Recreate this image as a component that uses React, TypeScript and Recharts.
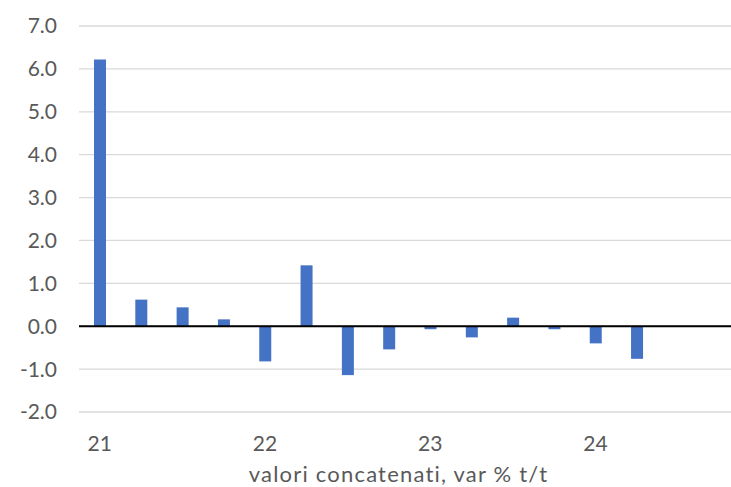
import { Bar, BarChart, CartesianGrid, Label, ReferenceLine, XAxis, YAxis } from "recharts";

// quarters 2021Q1 .. 2024Q4 (last two still empty)
const quarters = [
  "21Q1", "21Q2", "21Q3", "21Q4",
  "22Q1", "22Q2", "22Q3", "22Q4",
  "23Q1", "23Q2", "23Q3", "23Q4",
  "24Q1", "24Q2", "24Q3", "24Q4",
];
const growth: (number | null)[] = [
  6.22, 0.62, 0.44, 0.16,
  -0.82, 1.42, -1.14, -0.54,
  -0.07, -0.26, 0.2, -0.07,
  -0.4, -0.76, null, null,
];
const yTicks = [-2, -1, 0, 1, 2, 3, 4, 5, 6, 7];
const yearTicks = ["21Q1", "22Q1", "23Q1", "24Q1"];
const axisTitle = "valori concatenati, var % t/t";

const data = quarters.map((q, i) => ({ q, value: growth[i] }));

const font = "Lato, 'Open Sans', sans-serif";
const tickStyle = { fontSize: 21, fill: "#595959", fontFamily: font };

export default function App() {
  return (
    <div style={{ position: "fixed", left: 0, top: 0, width: 731, height: 487, overflow: "hidden", background: "#fff" }}>
      <BarChart width={745} height={487} data={data} margin={{ top: 26, right: 5, bottom: 0, left: 0 }} barSize={12}>
        <CartesianGrid vertical={false} stroke="#d9d9d9" strokeWidth={1.3} />
        <XAxis
          dataKey="q"
          ticks={yearTicks}
          interval={0}
          tickFormatter={(v: string) => v.slice(0, 2)}
          axisLine={false}
          tickLine={false}
          tickSize={0}
          tickMargin={24}
          height={75}
          tick={tickStyle}
        >
          <Label
            value={axisTitle}
            position="insideBottom"
            offset={5}
            dx={-11}
            style={{ fontSize: 22, fill: "#595959", fontFamily: font, letterSpacing: 1.2 }}
          />
        </XAxis>
        <YAxis
          domain={[-2, 7]}
          ticks={yTicks}
          tickFormatter={(v: number) => v.toFixed(1)}
          axisLine={false}
          tickLine={false}
          tickSize={0}
          tickMargin={22}
          width={79}
          tick={tickStyle}
        />
        <ReferenceLine y={0} stroke="#000" strokeWidth={2} />
        <Bar dataKey="value" fill="#4472C4" isAnimationActive={false} />
      </BarChart>
    </div>
  );
}
